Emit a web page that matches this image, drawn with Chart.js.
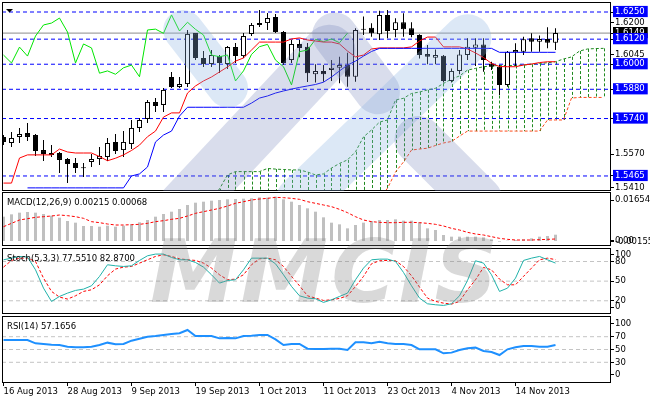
<!DOCTYPE html>
<html>
<head>
<meta charset="utf-8">
<title>GBPUSD Daily - Ichimoku, MACD, Stochastic, RSI</title>
<script src="https://cdn.jsdelivr.net/npm/chart.js@4.4.1/dist/chart.umd.min.js"></script>
<style>
  html, body { margin: 0; padding: 0; background: #fff; }
  #wrap { position: relative; width: 650px; height: 400px; overflow: hidden; font-family: "DejaVu Sans", sans-serif; }
  #wrap canvas { position: absolute; left: 0; z-index: 1; }
  #wm { position: absolute; left: 2px; top: 2px; width: 609px; height: 189px; overflow: hidden; z-index: 5; pointer-events: none; }
  .band { position: absolute; }
  #brand { position: absolute; left: 150px; top: 228px; z-index: 6; font: italic bold 88px "DejaVu Sans", sans-serif; line-height: 88px; letter-spacing: 3px; color: rgba(128,128,128,0.3); white-space: nowrap; pointer-events: none; }
  .ttl { position: absolute; left: 7px; z-index: 10; font-size: 8.5px; line-height: 10px; color: #000; white-space: nowrap; }
</style>
</head>
<body>
<div id="wrap">
  <canvas id="cMain" width="650" height="192" style="top:0"></canvas>
  <canvas id="cMacd" width="650" height="56" style="top:191px"></canvas>
  <canvas id="cStoch" width="650" height="68" style="top:247px"></canvas>
  <canvas id="cRsi" width="650" height="85" style="top:315px"></canvas>
  <div id="wm"></div>
  <div id="brand">MMCIS</div>
  <div class="ttl" style="top:197px">MACD(12,26,9) 0.00215 0.00068</div>
  <div class="ttl" style="top:253px">Stoch(5,3,3) 77.5510 82.8700</div>
  <div class="ttl" style="top:321px">RSI(14) 57.1656</div>
</div>
<script>
// bar index 0 = 16 Aug 2013, one bar per trading day
var tickIdx = [0, 8, 16, 24, 32, 40, 48, 56, 64];
var tickLabels = ['16 Aug 2013', '28 Aug 2013', '9 Sep 2013', '19 Sep 2013', '1 Oct 2013',
  '11 Oct 2013', '23 Oct 2013', '4 Nov 2013', '14 Nov 2013'];

var open = [1.5652, 1.5623, 1.5652, 1.5671, 1.5661, 1.5589, 1.5575, 1.5575, 1.5546, 1.5527,
  1.5502, 1.5532, 1.5546, 1.5556, 1.5628, 1.5589, 1.5618, 1.5695, 1.5738, 1.5819,
  1.5805, 1.5939, 1.5891, 1.5905, 1.6149, 1.6030, 1.6001, 1.6039, 1.6001, 1.6082,
  1.6039, 1.6145, 1.6188, 1.6197, 1.6226, 1.6154, 1.6020, 1.6097, 1.6084, 1.5952,
  1.5968, 1.5972, 1.5983, 1.5996, 1.5940, 1.6165, 1.6175, 1.6143, 1.6236, 1.6164,
  1.6201, 1.6172, 1.6140, 1.6049, 1.6031, 1.6041, 1.5920, 1.5968, 1.6044, 1.6079,
  1.6095, 1.6004, 1.5988, 1.5901, 1.6057, 1.6060, 1.6124, 1.6108, 1.6121, 1.6103];
var high = [1.5661, 1.5676, 1.5695, 1.5719, 1.5666, 1.5637, 1.5613, 1.5580, 1.5551, 1.5551,
  1.5527, 1.5570, 1.5604, 1.5647, 1.5666, 1.5680, 1.5733, 1.5743, 1.5829, 1.5838,
  1.5886, 1.5963, 1.5939, 1.6164, 1.6149, 1.6063, 1.6068, 1.6044, 1.6087, 1.6102,
  1.6149, 1.6197, 1.6260, 1.6245, 1.6240, 1.6159, 1.6116, 1.6116, 1.6102, 1.6000,
  1.5996, 1.6020, 1.6036, 1.6055, 1.6172, 1.6228, 1.6196, 1.6256, 1.6260, 1.6220,
  1.6244, 1.6201, 1.6143, 1.6092, 1.6071, 1.6044, 1.5980, 1.6068, 1.6124, 1.6124,
  1.6124, 1.6012, 1.5996, 1.6063, 1.6100, 1.6132, 1.6148, 1.6137, 1.6177, 1.6172];
var low = [1.5613, 1.5604, 1.5623, 1.5632, 1.5561, 1.5537, 1.5556, 1.5479, 1.5431, 1.5479,
  1.5460, 1.5508, 1.5517, 1.5537, 1.5570, 1.5556, 1.5594, 1.5676, 1.5719, 1.5771,
  1.5771, 1.5886, 1.5886, 1.5891, 1.6020, 1.5987, 1.5987, 1.5958, 1.5977, 1.6006,
  1.6030, 1.6135, 1.6178, 1.6164, 1.6149, 1.5996, 1.6006, 1.6034, 1.5915, 1.5913,
  1.5916, 1.5920, 1.5909, 1.5892, 1.5916, 1.6140, 1.6132, 1.6116, 1.6124, 1.6129,
  1.6132, 1.6129, 1.6028, 1.6000, 1.6000, 1.5913, 1.5913, 1.5952, 1.6020, 1.5992,
  1.5964, 1.5972, 1.5853, 1.5892, 1.5992, 1.6044, 1.6060, 1.6060, 1.6076, 1.6068];
var close = [1.5628, 1.5647, 1.5666, 1.5652, 1.5584, 1.5570, 1.5566, 1.5542, 1.5522, 1.5503,
  1.5505, 1.5546, 1.5561, 1.5623, 1.5584, 1.5628, 1.5695, 1.5733, 1.5819, 1.5800,
  1.5877, 1.5891, 1.5905, 1.6145, 1.6030, 1.6001, 1.6044, 1.6006, 1.6082, 1.6039,
  1.6135, 1.6188, 1.6197, 1.6221, 1.6154, 1.6006, 1.6097, 1.6078, 1.5957, 1.5968,
  1.5952, 1.5983, 1.5996, 1.5940, 1.6164, 1.6168, 1.6148, 1.6236, 1.6159, 1.6201,
  1.6167, 1.6140, 1.6044, 1.6036, 1.6044, 1.5920, 1.5968, 1.6047, 1.6084, 1.6095,
  1.6020, 1.5988, 1.5901, 1.6060, 1.6068, 1.6119, 1.6108, 1.6121, 1.6103, 1.6149];

// Ichimoku lines
var tenkan = [1.5431, 1.5431, 1.5551, 1.5566, 1.5566, 1.5566, 1.5566, 1.5594, 1.5580, 1.5575,
  1.5575, 1.5575, 1.5558, 1.5538, 1.5550, 1.5566, 1.5587, 1.5613, 1.5653, 1.5680,
  1.5747, 1.5767, 1.5767, 1.5862, 1.5896, 1.5920, 1.5939, 1.5963, 1.5987, 1.6015,
  1.6030, 1.6068, 1.6106, 1.6106, 1.6106, 1.6106, 1.6121, 1.6126, 1.6116, 1.6111,
  1.6106, 1.6106, 1.6097, 1.6063, 1.6035, 1.6044, 1.6073, 1.6078, 1.6078, 1.6078,
  1.6078, 1.6083, 1.6111, 1.6130, 1.6130, 1.6083, 1.6083, 1.6083, 1.6073, 1.6054,
  1.6032, 1.6004, 1.5989, 1.5988, 1.5988, 1.5996, 1.6001, 1.6008, 1.6012, 1.6012];
var kijun = [null, null, null, 1.5408, 1.5408, 1.5408, 1.5408, 1.5408, 1.5408, 1.5408,
  1.5408, 1.5408, 1.5408, 1.5408, 1.5408, 1.5408, 1.5465, 1.5475, 1.5508, 1.5628,
  1.5661, 1.5680, 1.5752, 1.5794, 1.5794, 1.5794, 1.5794, 1.5794, 1.5794, 1.5794,
  1.5794, 1.5814, 1.5838, 1.5848, 1.5862, 1.5872, 1.5881, 1.5889, 1.5896, 1.5903,
  1.5914, 1.5939, 1.5968, 1.5996, 1.6015, 1.6039, 1.6061, 1.6076, 1.6076, 1.6076,
  1.6076, 1.6076, 1.6076, 1.6076, 1.6076, 1.6076, 1.6076, 1.6076, 1.6076, 1.6076,
  1.6076, 1.6076, 1.6057, 1.6057, 1.6057, 1.6057, 1.6057, 1.6057, 1.6057, 1.6057];
var chikouShift = 26;            // chikou = close plotted 26 bars back
var senkouStart = 26;            // first bar index of the cloud arrays below
var senkouA = [1.5360, 1.5403, 1.5470, 1.5486, 1.5486, 1.5486, 1.5486, 1.5501, 1.5498, 1.5496,
  1.5494, 1.5494, 1.5484, 1.5470, 1.5475, 1.5503, 1.5525, 1.5542, 1.5581, 1.5652,
  1.5685, 1.5723, 1.5733, 1.5829, 1.5837, 1.5860, 1.5867, 1.5877, 1.5885, 1.5908,
  1.5929, 1.5944, 1.5972, 1.5980, 1.5988, 1.5992, 1.5994, 1.5994, 1.5994, 1.5996,
  1.6000, 1.6004, 1.6007, 1.6012, 1.6025, 1.6035, 1.6063, 1.6073, 1.6075, 1.6076];
var senkouB = [1.5300, 1.5300, 1.5300, 1.5300, 1.5300, 1.5300, 1.5300, 1.5300, 1.5300, 1.5300,
  1.5300, 1.5300, 1.5300, 1.5300, 1.5300, 1.5300, 1.5300, 1.5300, 1.5300, 1.5300,
  1.5300, 1.5360, 1.5406, 1.5484, 1.5532, 1.5589, 1.5594, 1.5598, 1.5611, 1.5623,
  1.5630, 1.5656, 1.5680, 1.5680, 1.5680, 1.5680, 1.5680, 1.5680, 1.5680, 1.5680,
  1.5680, 1.5680, 1.5733, 1.5733, 1.5733, 1.5838, 1.5841, 1.5841, 1.5841, 1.5841];

var levels = [1.6250, 1.6120, 1.6000, 1.5880, 1.5740, 1.5465];
var lastPrice = 1.6149;
var priceTicks = [1.6250, 1.6200, 1.6149, 1.6120, 1.6045, 1.6000, 1.5880, 1.5740, 1.5570, 1.5465, 1.5410];

var macdHist = [0.00830, 0.00910, 0.00967, 0.00990, 0.00967, 0.00922, 0.00865, 0.00796, 0.00683, 0.00626,
  0.00512, 0.00512, 0.00489, 0.00523, 0.00489, 0.00523, 0.00569, 0.00637, 0.00717, 0.00830,
  0.00922, 0.01001, 0.01092, 0.01229, 0.01308, 0.01342, 0.01377, 0.01399, 0.01422, 0.01433,
  0.01445, 0.01456, 0.01490, 0.01479, 0.01513, 0.01422, 0.01342, 0.01229, 0.01115, 0.01001,
  0.00808, 0.00626, 0.00569, 0.00432, 0.00546, 0.00626, 0.00683, 0.00717, 0.00717, 0.00740,
  0.00694, 0.00694, 0.00637, 0.00432, 0.00375, 0.00205, 0.00148, 0.00148, 0.00148, 0.00148,
  0.00125, 0.00057, -0.00023, 0.00011, 0.00034, 0.00057, 0.00091, 0.00148, 0.00171, 0.00215];
var macdSignal = [0.00489, 0.00603, 0.00717, 0.00762, 0.00808, 0.00830, 0.00853, 0.00887, 0.00865, 0.00830,
  0.00774, 0.00660, 0.00626, 0.00580, 0.00546, 0.00546, 0.00557, 0.00569, 0.00603, 0.00660,
  0.00694, 0.00740, 0.00774, 0.00853, 0.00944, 0.01001, 0.01058, 0.01115, 0.01195, 0.01286,
  0.01342, 0.01399, 0.01433, 0.01456, 0.01490, 0.01479, 0.01456, 0.01422, 0.01342, 0.01286,
  0.01229, 0.01172, 0.01081, 0.00967, 0.00830, 0.00717, 0.00660, 0.00637, 0.00626, 0.00626,
  0.00637, 0.00637, 0.00626, 0.00603, 0.00569, 0.00512, 0.00432, 0.00375, 0.00296, 0.00239,
  0.00205, 0.00148, 0.00091, 0.00057, 0.00034, 0.00034, 0.00034, 0.00045, 0.00057, 0.00068];
var macdTickPos = [0.01399, -0.0002, 0.0002];
var macdTickText = ['0.01654', '-0.00155', '0.00'];

var stochK = [82.6, 85.1, 87.7, 86.7, 67.3, 39.3, 19.0, 26.6, 31.7, 35.8,
  37.8, 42.9, 57.2, 75.0, 73.4, 72.4, 73.4, 81.6, 88.7, 91.3,
  91.3, 86.2, 82.6, 82.6, 78.5, 71.4, 59.7, 47.0, 51.0, 52.1,
  67.3, 85.1, 85.1, 85.1, 76.5, 59.7, 41.9, 27.6, 24.1, 23.1,
  17.5, 21.5, 26.6, 31.7, 52.1, 69.9, 82.6, 83.6, 83.6, 80.1,
  63.3, 42.9, 24.1, 15.4, 13.9, 12.9, 15.4, 27.6, 51.0, 81.1,
  77.5, 59.7, 34.3, 39.3, 54.6, 81.6, 85.1, 87.7, 82.6, 77.55];
var stochD = [71.4, 81.6, 85.1, 85.1, 80.1, 54.6, 34.3, 25.6, 22.6, 27.6,
  34.3, 36.8, 44.4, 58.2, 68.4, 71.4, 72.4, 77.5, 82.6, 87.7,
  90.2, 87.7, 84.1, 82.6, 81.6, 77.5, 69.9, 59.7, 52.1, 53.1,
  59.7, 75.0, 84.1, 85.1, 82.6, 72.4, 57.2, 42.9, 27.6, 24.1,
  20.5, 21.5, 23.6, 27.6, 41.9, 57.2, 76.5, 81.1, 81.6, 81.1,
  72.4, 58.2, 40.9, 24.1, 19.0, 16.4, 14.9, 19.0, 36.8, 52.1,
  70.9, 67.3, 53.1, 44.4, 44.4, 57.2, 69.9, 82.6, 85.1, 82.87];
var stochLevels = [80, 50, 20];
var stochTickPos = [90.2, 80, 50, 20, 10.4];
var stochTickText = ['100', '80', '50', '20', '0'];

var rsi = [64.8, 64.8, 64.8, 64.8, 59.6, 58.6, 57.5, 57.0, 54.4, 53.4,
  53.4, 54.4, 57.0, 60.7, 58.1, 58.6, 63.8, 66.9, 70.0, 71.1,
  72.7, 74.2, 75.3, 80.5, 71.1, 71.1, 71.1, 67.4, 67.9, 67.4,
  71.1, 71.6, 72.7, 72.7, 65.9, 57.0, 58.6, 58.6, 51.3, 50.8,
  50.8, 51.3, 51.3, 49.2, 61.2, 61.2, 59.6, 62.2, 59.6, 58.6,
  58.6, 57.0, 50.3, 50.3, 50.3, 44.0, 45.1, 49.2, 51.8, 52.9,
  47.7, 46.1, 41.4, 50.3, 53.4, 55.5, 55.5, 54.4, 54.4, 57.17];
var rsiLevels = [70, 50, 30];
var rsiTickPos = [90.9, 70, 50, 30, 10.2];
var rsiTickText = ['100', '70', '50', '30', '0'];

// ---------------------------------------------------------------
var X_MIN = -0.1875, X_MAX = 75.9375;

Chart.defaults.font.family = '"DejaVu Sans", sans-serif';
Chart.defaults.font.size = 8.5;
Chart.defaults.color = '#000';

function pts(arr, start) {
  return arr.map(function (v, i) { return { x: i + (start || 0), y: v }; });
}
function hline(v, color, dash) {
  return { type: 'line', data: [{ x: X_MIN, y: v }, { x: X_MAX, y: v }], borderColor: color,
    borderWidth: 1, borderDash: dash || [], pointRadius: 0, order: 20 };
}
function lineSet(data, color, width, dash, order) {
  return { type: 'line', data: data, borderColor: color, borderWidth: width, borderDash: dash || [],
    pointRadius: 0, tension: 0, spanGaps: false, fill: false, order: order };
}

function hiddenX() {
  return { type: 'linear', min: X_MIN, max: X_MAX, display: false, offset: false, grid: { offset: false } };
}

function rightAxis(min, max, tickPos, tickText, extra) {
  var ticks = { autoSkip: false, padding: 1, color: '#000',
    callback: function (v, i) { return tickText[i]; } };
  if (extra) Object.keys(extra).forEach(function (k) { ticks[k] = extra[k]; });
  return {
    type: 'linear', position: 'right', min: min, max: max,
    afterFit: function (s) { s.width = 39; s.paddingTop = 0; s.paddingBottom = 0; },
    afterBuildTicks: function (s) { s.ticks = tickPos.map(function (v) { return { value: v }; }); },
    grid: { drawOnChartArea: false, drawTicks: true, tickLength: 3, color: '#000' },
    border: { display: false },
    ticks: ticks
  };
}

var frame = {
  id: 'frame',
  afterDraw: function (chart) {
    var a = chart.chartArea, ctx = chart.ctx;
    ctx.save();
    ctx.strokeStyle = '#000';
    ctx.lineWidth = 1;
    ctx.setLineDash([]);
    ctx.strokeRect(a.left + 0.5, a.top + 0.5, a.width - 1, a.height - 1);
    ctx.restore();
  }
};

var cloudHatch = {
  id: 'cloudHatch',
  beforeDatasetsDraw: function (chart) {
    var a = chart.chartArea, ctx = chart.ctx, x = chart.scales.x, y = chart.scales.y;
    ctx.save();
    ctx.beginPath();
    ctx.rect(a.left, a.top, a.width, a.height);
    ctx.clip();
    ctx.strokeStyle = '#1f8a1f';
    ctx.lineWidth = 1;
    ctx.setLineDash([3, 2]);
    senkouA.forEach(function (va, k) {
      var px = Math.round(x.getPixelForValue(senkouStart + k)) + 0.5;
      ctx.beginPath();
      ctx.moveTo(px, y.getPixelForValue(va));
      ctx.lineTo(px, y.getPixelForValue(senkouB[k]));
      ctx.stroke();
    });
    ctx.restore();
  }
};

var marker = {
  id: 'marker',
  afterDraw: function (chart) {
    var ctx = chart.ctx;
    ctx.save();
    ctx.fillStyle = '#000';
    ctx.beginPath();
    ctx.moveTo(6, 9); ctx.lineTo(13, 9); ctx.lineTo(9.5, 12.5); ctx.closePath();
    ctx.fill();
    ctx.restore();
  }
};

var base = {
  responsive: false, animation: false, devicePixelRatio: 1, events: [],
  plugins: { legend: { display: false }, tooltip: { enabled: false } }
};
function opts(extra) {
  var o = JSON.parse(JSON.stringify(base));
  Object.keys(extra).forEach(function (k) { o[k] = extra[k]; });
  return o;
}

// ---- price panel ----
function isBoxed(v) { return v === lastPrice || levels.indexOf(v) >= 0; }

var mainSets = levels.map(function (l) { return hline(l, '#0000ff', [4, 3]); });
mainSets.push(hline(lastPrice, '#8c8c8c'));
mainSets.push(lineSet(pts(senkouB, senkouStart), '#ff4a1a', 1, [3, 2], 12));
mainSets.push(lineSet(pts(senkouA, senkouStart), '#1f8a1f', 1, [3, 2], 11));
mainSets.push({
  type: 'bar', grouped: false, barThickness: 1, order: 10,
  data: low.map(function (l, i) { return { x: i, y: [l, high[i]] }; }),
  backgroundColor: '#000', borderWidth: 0, inflateAmount: 0
});
mainSets.push({
  type: 'bar', grouped: false, barThickness: 5, order: 9, minBarLength: 1,
  data: open.map(function (o, i) { return { x: i, y: [o, close[i]] }; }),
  backgroundColor: function (c) { return close[c.dataIndex] >= open[c.dataIndex] ? '#fff' : '#000'; },
  borderColor: '#000', borderWidth: 1, borderSkipped: false, inflateAmount: 0
});
mainSets.push(lineSet(pts(close.slice(chikouShift)), '#00e600', 1, [], 4));
mainSets.push(lineSet(pts(tenkan), '#ff0000', 1, [], 3));
mainSets.push(lineSet(pts(kijun), '#0000ff', 1, [], 2));

new Chart(document.getElementById('cMain'), {
  type: 'bar',
  data: { datasets: mainSets },
  options: opts({
    layout: { padding: { left: 2, top: 2, right: 0, bottom: 1 } },
    scales: {
      x: hiddenX(),
      y: rightAxis(1.53931, 1.62979, priceTicks, priceTicks.map(function (v) { return v.toFixed(4); }), {
        showLabelBackdrop: true,
        backdropColor: function (c) {
          var v = c.tick.value;
          if (v === lastPrice) return '#000';
          return levels.indexOf(v) >= 0 ? '#0000ff' : 'rgba(0,0,0,0)';
        },
        backdropPadding: { left: 2, right: 3, top: 1, bottom: 0 },
        color: function (c) { return isBoxed(c.tick.value) ? '#fff' : '#000'; }
      })
    }
  }),
  plugins: [cloudHatch, frame, marker]
});

// ---- MACD panel ----
new Chart(document.getElementById('cMacd'), {
  type: 'bar',
  data: { datasets: [
    { type: 'bar', grouped: false, barThickness: 3, data: pts(macdHist), backgroundColor: '#c0c0c0',
      borderWidth: 0, inflateAmount: 0, order: 5 },
    lineSet(pts(macdSignal), '#ff0000', 1, [3, 2], 1)
  ] },
  options: opts({
    layout: { padding: { left: 2, top: 1, right: 0, bottom: 1 } },
    scales: { x: hiddenX(), y: rightAxis(-0.001706, 0.016724, macdTickPos, macdTickText) }
  }),
  plugins: [frame]
});

// ---- Stochastic panel ----
var stochSets = stochLevels.map(function (l) { return hline(l, '#c4c4c4', [4, 3]); });
stochSets.push(lineSet(pts(stochD), '#ff0000', 1, [3, 2], 2));
stochSets.push(lineSet(pts(stochK), '#20b2aa', 1, [], 1));
new Chart(document.getElementById('cStoch'), {
  type: 'line',
  data: { datasets: stochSets },
  options: opts({
    layout: { padding: { left: 2, top: 1, right: 0, bottom: 1 } },
    scales: { x: hiddenX(), y: rightAxis(-0.2, 100.6, stochTickPos, stochTickText) }
  }),
  plugins: [frame]
});

// ---- RSI panel (carries the date axis) ----
var rsiSets = rsiLevels.map(function (l) { return hline(l, '#c4c4c4', [4, 3]); });
rsiSets.push(lineSet(pts(rsi), '#1e90ff', 2, [], 1));
new Chart(document.getElementById('cRsi'), {
  type: 'line',
  data: { datasets: rsiSets },
  options: opts({
    layout: { padding: { left: 2, top: 1, right: 0, bottom: 0 } },
    scales: {
      x: {
        type: 'linear', min: X_MIN, max: X_MAX, offset: false,
        afterBuildTicks: function (s) { s.ticks = tickIdx.map(function (v) { return { value: v }; }); },
        afterFit: function (s) { s.height = 17; s.paddingLeft = 0; s.paddingRight = 0; },
        grid: { drawOnChartArea: false, drawTicks: true, tickLength: 3, color: '#000', offset: false },
        border: { display: false },
        ticks: { autoSkip: false, maxRotation: 0, align: 'start', padding: 1, color: '#000',
          callback: function (v) { return tickLabels[tickIdx.indexOf(v)]; } }
      },
      y: rightAxis(-2.3, 102.3, rsiTickPos, rsiTickText)
    }
  }),
  plugins: [frame]
});

// ---- faint MMCIS logo bands over the price panel ----
var wm = document.getElementById('wm');
[
  [183, 30, 228, 88, 40, 'rgba(140,180,225,0.30)'],
  [185, 205, 330, 50, 52, 'rgba(120,132,185,0.28)'],
  [335, 35, 378, 92, 45, 'rgba(120,132,185,0.28)'],
  [300, 200, 468, 38, 48, 'rgba(140,180,225,0.30)'],
  [418, 140, 478, 200, 48, 'rgba(120,132,185,0.28)']
].forEach(function (b) {
  var dx = b[2] - b[0], dy = b[3] - b[1];
  var len = Math.sqrt(dx * dx + dy * dy) + b[4];
  var d = document.createElement('div');
  d.className = 'band';
  d.style.width = len + 'px';
  d.style.height = b[4] + 'px';
  d.style.borderRadius = (b[4] / 2) + 'px';
  d.style.background = b[5];
  d.style.left = ((b[0] + b[2]) / 2 - len / 2 - 2) + 'px';
  d.style.top = ((b[1] + b[3]) / 2 - b[4] / 2 - 2) + 'px';
  d.style.transform = 'rotate(' + Math.atan2(dy, dx) + 'rad)';
  wm.appendChild(d);
});
</script>
</body>
</html>
